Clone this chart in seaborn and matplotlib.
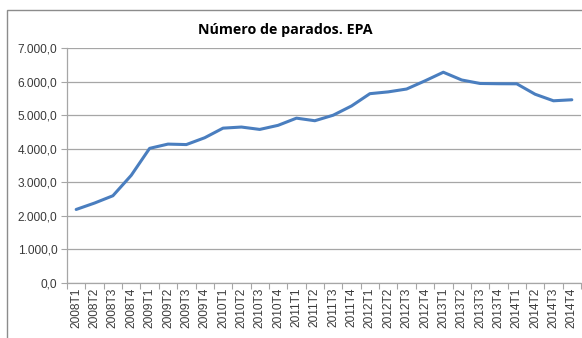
import matplotlib
matplotlib.use("Agg")
import matplotlib.pyplot as plt
import matplotlib.ticker as mticker
from matplotlib.patches import Rectangle
import seaborn as sns
import pandas as pd

# Quarterly periods and unemployed persons (thousands), EPA
quarters = [f"{y}T{q}" for y in range(2008, 2015) for q in range(1, 5)]
parados = [2190.5, 2381.5, 2598.8, 3207.9,
           4010.7, 4137.5, 4123.3, 4326.5,
           4612.7, 4645.5, 4574.7, 4696.6,
           4910.2, 4833.7, 4998.0, 5273.6,
           5639.5, 5693.1, 5778.1, 6021.0,
           6278.2, 6047.3, 5943.4, 5935.6,
           5933.3, 5622.9, 5427.7, 5457.7]
y_ticks = [0, 1000, 2000, 3000, 4000, 5000, 6000, 7000]
title = "Número de parados. EPA"

df = pd.DataFrame({"trimestre": quarters, "parados": parados})

sns.set_theme(style="white")
plt.rcParams["font.family"] = ["Liberation Sans", "DejaVu Sans"]

W, H = 582, 338
fig = plt.figure(figsize=(W / 100, H / 100), dpi=100)
ax = fig.add_axes([67 / W, 1 - 283 / H, (581 - 67) / W, (283 - 48) / H])

sns.lineplot(data=df, x="trimestre", y="parados", ax=ax,
             color="#4A7EBF", linewidth=2.2, sort=False)

ax.set_xlim(-0.5, len(quarters) - 0.5)
ax.set_ylim(0, 7000)
ax.set_yticks(y_ticks)


def fmt_es(v, _pos):
    s = f"{v:,.1f}"
    return s.replace(",", "X").replace(".", ",").replace("X", ".")


ax.yaxis.set_major_formatter(mticker.FuncFormatter(fmt_es))
ax.grid(axis="y", color="#A6A6A6", linewidth=0.9)
ax.grid(axis="x", visible=False)
ax.set_axisbelow(True)

# category labels centred, tick marks at category boundaries
ax.set_xticks(range(len(quarters)))
ax.set_xticklabels(quarters, rotation=90, fontsize=8.6, color="#3A3A3A")
ax.xaxis.set_minor_locator(mticker.FixedLocator(
    [i - 0.5 for i in range(len(quarters) + 1)]))
ax.tick_params(axis="x", which="major", length=0, pad=3)
ax.tick_params(axis="x", which="minor", length=4, width=0.8,
               color="#A6A6A6", direction="out", bottom=True)
ax.tick_params(axis="y", length=4, width=0.8, color="#A6A6A6",
               direction="out", left=True, labelsize=8.6,
               labelcolor="#3A3A3A", pad=3)

for side in ("top", "right"):
    ax.spines[side].set_visible(False)
for side in ("left", "bottom"):
    ax.spines[side].set_color("#A6A6A6")
    ax.spines[side].set_linewidth(0.9)

ax.set_xlabel("")
ax.set_ylabel("")

fig.text(285 / W, 1 - 30 / H, title, ha="center", va="center",
         fontsize=10.3, fontweight="bold", color="#000000",
         family=["Open Sans", "DejaVu Sans"])

# chart frame
fig.patches.append(Rectangle((7 / W, -0.05), 1.2, 1 - 10 / H + 0.05,
                             transform=fig.transFigure, fill=False,
                             edgecolor="#8C8C8C", linewidth=1.0))

fig.savefig("out.png", dpi=100, facecolor="white")
